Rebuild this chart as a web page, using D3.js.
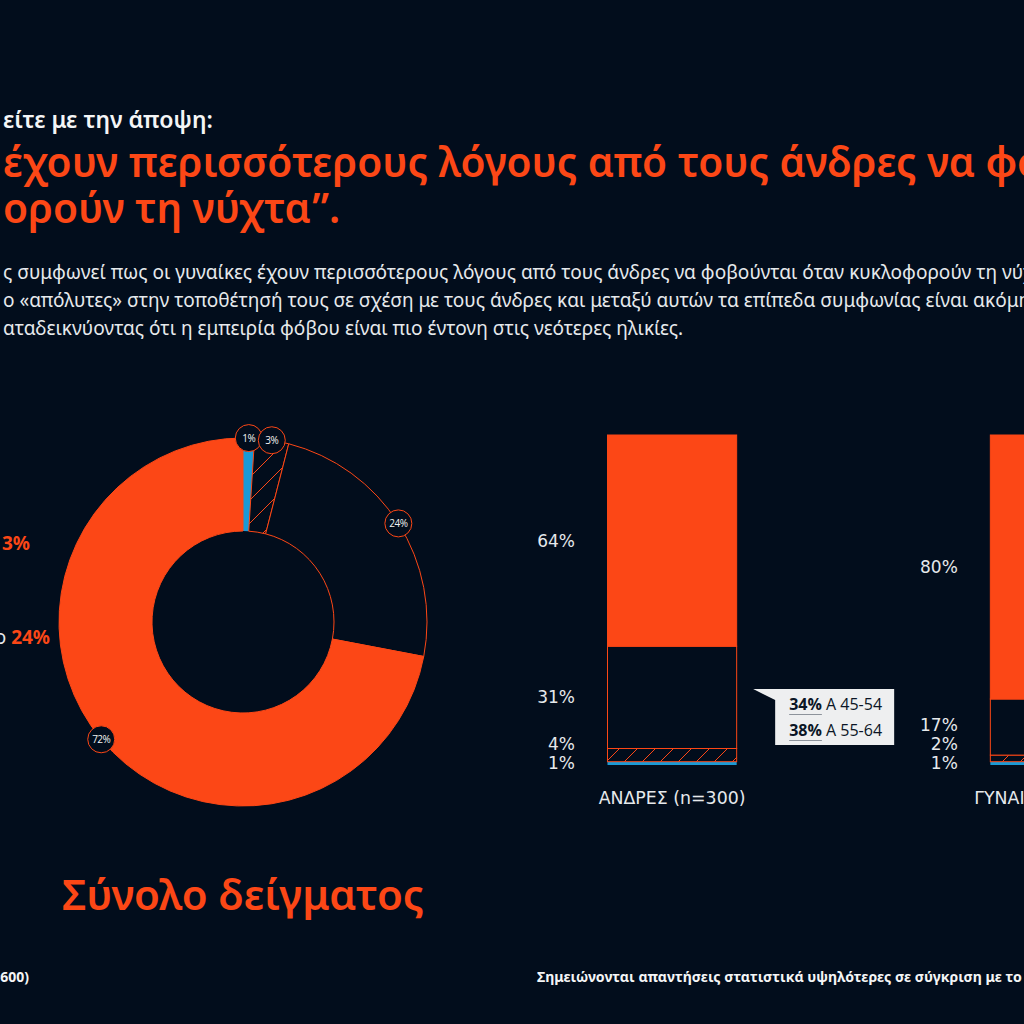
<!DOCTYPE html>
<html>
<head>
<meta charset="utf-8">
<script src="https://cdn.jsdelivr.net/npm/d3@7"></script>
<style>
    html, body { margin: 0; padding: 0; background: #020d1c; overflow: hidden; }
    svg { display: block; }
</style>
</head>
<body>
<svg id="chart" width="1024" height="1024"></svg>
<script>
var ORANGE = "#fc4716",
    BLUE = "#1a9ad6",
    BG = "#020d1c",
    TEXT = "#e6e9ec",
    FONT = "'Noto Sans', 'Open Sans', sans-serif",
    LABEL_FONT = "'DejaVu Sans', 'Open Sans', sans-serif";

// response categories, bottom of bar / start of donut first
var responseKeys = ["disagreeFully", "disagreeSome", "agreeSome", "agreeFully"];
var totalValues = [1, 3, 24, 72];
var groups = ["ΑΝΔΡΕΣ (n=300)", "ΓΥΝΑΙΚΕΣ (n=300)"];
var menValues = [1, 4, 31, 64];
var womenValues = [1, 2, 17, 80];
var legendLabels = ["Διαφωνώ ως ένα σημείο", "Συμφωνώ ως ένα σημείο"];
var legendValues = ["3%", "24%"];
var calloutValues = ["34%", "38%"];
var calloutAges = ["Α 45-54", "Α 55-64"];

var headerLines = {
    question: "είτε με την άποψη:",
    title: ["έχουν περισσότερους λόγους από τους άνδρες να φοβούνται",
            "ορούν τη νύχτα”."],
    text: ["ς συμφωνεί πως οι γυναίκες έχουν περισσότερους λόγους από τους άνδρες να φοβούνται όταν κυκλοφορούν τη νύχτα",
           "ο «απόλυτες» στην τοποθέτησή τους σε σχέση με τους άνδρες και μεταξύ αυτών τα επίπεδα συμφωνίας είναι ακόμη",
           "αταδεικνύοντας ότι η εμπειρία φόβου είναι πιο έντονη στις νεότερες ηλικίες."]
};

var svg = d3.select("#chart");
svg.append("rect").attr("width", 1024).attr("height", 1024).attr("fill", BG);

var defs = svg.append("defs");
function hatch(id, size) {
    var p = defs.append("pattern")
        .attr("id", id)
        .attr("patternUnits", "userSpaceOnUse")
        .attr("width", size).attr("height", size);
    p.append("path")
        .attr("d", "M0," + size + "L" + size + ",0M-4,4L4,-4M" + (size - 4) + "," + (size + 4) + "L" + (size + 4) + "," + (size - 4))
        .attr("stroke", ORANGE).attr("stroke-width", 1);
}
hatch("hatchBar", 18);
hatch("hatchDonut", 23);

function segFill(key, pattern) {
    if (key === "disagreeFully") return BLUE;
    if (key === "disagreeSome") return "url(#" + pattern + ")";
    if (key === "agreeSome") return BG;
    return ORANGE;
}
function segStroke(key) {
    return key === "disagreeFully" ? "none" : ORANGE;
}

// scale a text so the first `chars` characters span `width` px
function fitText(sel, width, chars) {
    var node = sel.node();
    var w = chars ? node.getSubStringLength(0, chars) : node.getComputedTextLength();
    var fs = parseFloat(sel.style("font-size"));
    var size = fs * width / w;
    sel.style("font-size", size + "px");
    return size;
}

// ---------- header ----------
var q = svg.append("text")
    .attr("x", 3).attr("y", 128)
    .attr("fill", "#f4f5f6")
    .style("font-family", FONT).style("font-weight", 600).style("font-size", "20px")
    .text(headerLines.question);
fitText(q, 210);

var t1 = svg.append("text")
    .attr("x", 3).attr("y", 177)
    .attr("fill", ORANGE)
    .style("font-family", FONT).style("font-weight", 600).style("font-size", "40px")
    .text(headerLines.title[0]);
var titleSize = fitText(t1, 972, "έχουν περισσότερους λόγους από τους άνδρες να".length);
svg.append("text")
    .attr("x", 3).attr("y", 223)
    .attr("fill", ORANGE)
    .style("font-family", FONT).style("font-weight", 600).style("font-size", titleSize + "px")
    .text(headerLines.title[1]);

var bodyY = [279, 307, 335];
var bodyText = svg.append("g")
    .attr("fill", TEXT)
    .style("font-family", FONT).style("font-size", "17px");
var lastLine = bodyText.append("text").attr("x", 3).attr("y", bodyY[2]).text(headerLines.text[2]);
var bodySize = fitText(lastLine, 681);
bodyText.selectAll("text.l").data(headerLines.text.slice(0, 2)).join("text")
    .attr("class", "l")
    .attr("x", 3).attr("y", function (d, i) { return bodyY[i]; })
    .style("font-size", bodySize + "px")
    .text(function (d) { return d; });

// ---------- donut ----------
var cx = 243, cy = 622, rOuter = 184, rInner = 91;
var pie = d3.pie().sort(null).value(function (d) { return d; });
var arcs = pie(totalValues);
var arc = d3.arc().innerRadius(rInner).outerRadius(rOuter);
var labelArc = d3.arc().innerRadius(rOuter).outerRadius(rOuter);

var donut = svg.append("g").attr("transform", "translate(" + cx + "," + cy + ")");
donut.selectAll("path.slice").data(arcs).join("path")
    .attr("class", "slice")
    .attr("d", arc)
    .attr("fill", function (d, i) { return segFill(responseKeys[i], "hatchDonut"); })
    .attr("stroke", function (d, i) { return segStroke(responseKeys[i]); })
    .attr("stroke-width", 1);

var tags = donut.selectAll("g.tag").data(arcs).join("g")
    .attr("class", "tag")
    .attr("transform", function (d) { return "translate(" + labelArc.centroid(d) + ")"; });
tags.append("circle").attr("r", 13.5).attr("fill", BG).attr("stroke", ORANGE).attr("stroke-width", 1);
tags.append("text")
    .attr("text-anchor", "middle").attr("dy", "0.35em")
    .attr("fill", "#f2f2f2")
    .style("font-family", "'Open Sans', sans-serif").style("font-size", "10px")
    .style("letter-spacing", "-0.5px")
    .text(function (d) { return d.value + "%"; });

// legend fragments (cut by the left edge)
var legendX = [30, 50], legendY = [550, 644];
var legend = svg.selectAll("text.legend").data(legendLabels).join("text")
    .attr("class", "legend")
    .attr("x", function (d, i) { return legendX[i]; })
    .attr("y", function (d, i) { return legendY[i]; })
    .attr("text-anchor", "end")
    .style("font-family", FONT).style("font-size", "19px");
legend.append("tspan").attr("fill", TEXT).text(function (d) { return d + " "; });
legend.append("tspan").attr("fill", ORANGE).style("font-weight", 700)
    .text(function (d, i) { return legendValues[i]; });

var totalTitle = svg.append("text")
    .attr("x", 62).attr("y", 910)
    .attr("fill", ORANGE)
    .style("font-family", FONT).style("font-weight", 600).style("font-size", "40px")
    .text("Σύνολο δείγματος");
fitText(totalTitle, 362);

// ---------- stacked bars ----------
var rows = groups.map(function (g, gi) {
    var src = gi === 0 ? menValues : womenValues;
    var row = { group: g };
    responseKeys.forEach(function (k, ki) { row[k] = src[ki]; });
    return row;
});
var series = d3.stack().keys(responseKeys)(rows);

var x = d3.scaleBand().domain(groups).range([607, 1120]).paddingInner(0.66).paddingOuter(0);
var y = d3.scaleLinear().domain([0, 100]).range([765, 435]);

var bars = svg.append("g");
bars.selectAll("g.series").data(series).join("g")
    .attr("class", "series")
    .attr("fill", function (s) { return segFill(s.key, "hatchBar"); })
    .attr("stroke", function (s) { return segStroke(s.key); })
    .selectAll("rect").data(function (s) { return s; }).join("rect")
    .attr("x", function (d) { return x(d.data.group) + 0.5; })
    .attr("width", x.bandwidth() - 1)
    .attr("y", function (d) { return y(d[1]); })
    .attr("height", function (d) { return y(d[0]) - y(d[1]); });

// value labels, pushed apart from the bottom up
var valueLabels = [];
groups.forEach(function (g) {
    var prev = Infinity;
    series.forEach(function (s) {
        var d = s.find(function (e) { return e.data.group === g; });
        var mid = y((d[0] + d[1]) / 2);
        var pos = Math.min(mid, prev - 19);
        prev = pos;
        valueLabels.push({ group: g, y: pos, text: (d[1] - d[0]) + "%" });
    });
});
svg.append("g").selectAll("text").data(valueLabels).join("text")
    .attr("x", function (d) { return x(d.group) - 32; })
    .attr("y", function (d) { return d.y; })
    .attr("text-anchor", "end").attr("dominant-baseline", "central")
    .attr("fill", TEXT)
    .style("font-family", LABEL_FONT).style("font-size", "17px")
    .text(function (d) { return d.text; });

var groupLabels = svg.append("g").selectAll("text").data(groups).join("text")
    .attr("x", function (d) { return x(d) + x.bandwidth() / 2; })
    .attr("y", 804)
    .attr("text-anchor", "middle")
    .attr("fill", TEXT)
    .style("font-family", LABEL_FONT).style("font-size", "16.5px")
    .text(function (d) { return d; });
var groupSize = fitText(d3.select(groupLabels.nodes()[0]), 147);
groupLabels.style("font-size", groupSize + "px");

// callout next to the men's bar
var bx = x(groups[0]) + x.bandwidth() + 38, by = 689;
var callout = svg.append("g");
callout.append("path")
    .attr("d", "M" + (bx - 22) + "," + by + "H" + (bx + 119) + "V" + (by + 56) + "H" + bx + "V" + (by + 11) + "Z")
    .attr("fill", "#eeeff0");
calloutValues.forEach(function (v, i) {
    var ly = by + 21 + i * 26;
    var line = callout.append("text")
        .attr("x", bx + 14).attr("y", ly)
        .attr("fill", "#0b1626")
        .style("font-family", "'Open Sans', sans-serif").style("font-size", "16px");
    var bold = line.append("tspan").style("font-weight", 700).text(v);
    line.append("tspan").text(" " + calloutAges[i]);
    var w = bold.node().getComputedTextLength();
    callout.append("line")
        .attr("x1", bx + 14).attr("x2", bx + 14 + w)
        .attr("y1", ly + 4.5).attr("y2", ly + 4.5)
        .attr("stroke", "#8d939b").attr("stroke-width", 1.2);
});

// ---------- footer ----------
svg.append("text")
    .attr("x", 29).attr("y", 982)
    .attr("text-anchor", "end")
    .attr("fill", "#f4f5f6")
    .style("font-family", FONT).style("font-weight", 700).style("font-size", "14px")
    .text("Βάση: Σύνολο δείγματος (n=600)");

var note = svg.append("text")
    .attr("x", 537).attr("y", 982)
    .attr("fill", "#f4f5f6")
    .style("font-family", FONT).style("font-weight", 700).style("font-size", "13px")
    .text("Σημειώνονται απαντήσεις στατιστικά υψηλότερες σε σύγκριση με το");
fitText(note, 485);
</script>
</body>
</html>
